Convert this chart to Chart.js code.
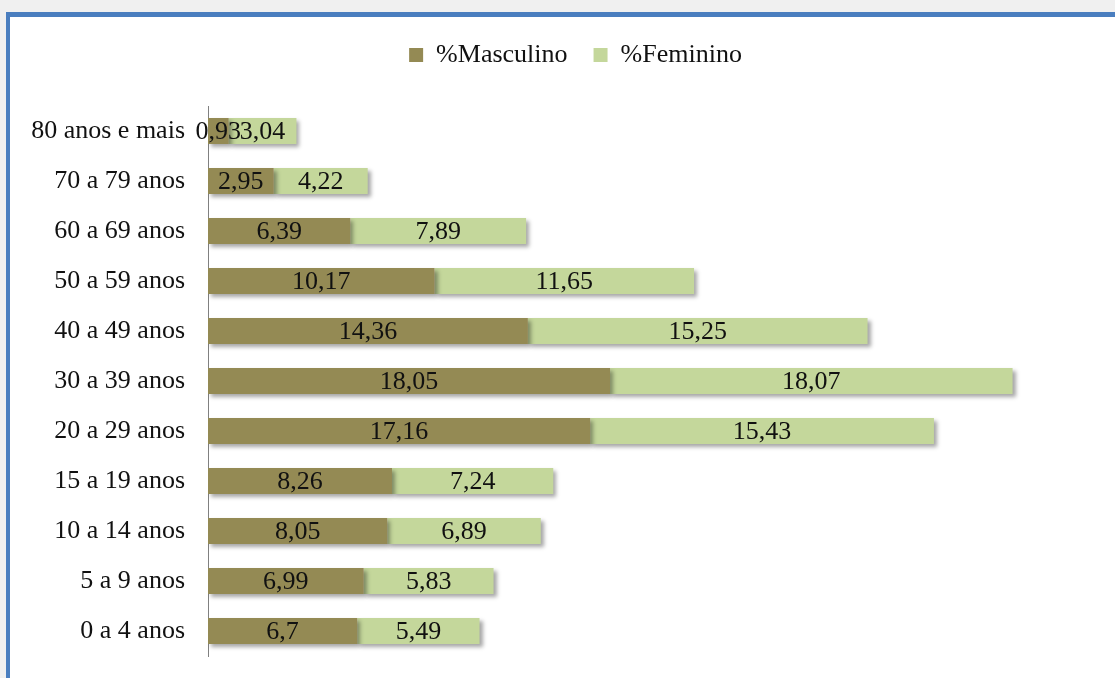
<!DOCTYPE html>
<html>
<head>
<meta charset="utf-8">
<script src="https://cdn.jsdelivr.net/npm/chart.js@4/dist/chart.umd.min.js"></script>
<style>
    html, body { margin: 0; padding: 0; background: #f0f0f0; overflow: hidden; }
    #frame {
        position: absolute; left: 6px; top: 12px; width: 1120px; height: 680px;
        background: #ffffff; border-top: 5px solid #4a7ebf; border-left: 4px solid #4a7ebf;
    }
    #chartCanvas { position: absolute; left: 0; top: 0; }
</style>
</head>
<body>
<div id="frame"></div>
<canvas id="chartCanvas" width="1115" height="678"></canvas>
<script>
const categories = [
    "80 anos e mais", "70 a 79 anos", "60 a 69 anos", "50 a 59 anos", "40 a 49 anos",
    "30 a 39 anos", "20 a 29 anos", "15 a 19 anos", "10 a 14 anos", "5 a 9 anos", "0 a 4 anos"
];
const masculino = [0.93, 2.95, 6.39, 10.17, 14.36, 18.05, 17.16, 8.26, 8.05, 6.99, 6.7];
const feminino = [3.04, 4.22, 7.89, 11.65, 15.25, 18.07, 15.43, 7.24, 6.89, 5.83, 5.49];

const FONT = "'Liberation Serif', 'Times New Roman', serif";

// empty box between legend and plot, pushes the bars down
const spacer = {
    id: "spacer",
    beforeInit(chart) {
        Chart.layouts.addBox(chart, {
            position: "top",
            weight: 500,
            fullSize: true,
            options: {},
            isHorizontal() { return true; },
            update(w, h) { this.width = w; this.height = 28; },
            draw() {}
        });
    },
    // legend sits over the plot a bit to the right in the original
    afterLayout(chart) {
        chart.legend.left += 26;
        chart.legend.right += 26;
    }
};

// bar shadows + value labels drawn in the middle of each segment
const barExtras = {
    id: "barExtras",
    beforeDatasetsDraw(chart) {
        const ctx = chart.ctx;
        ctx.save();
        ctx.shadowColor = "rgba(0, 0, 0, 0.35)";
        ctx.shadowBlur = 4;
        ctx.shadowOffsetX = 3;
        ctx.shadowOffsetY = 3;
    },
    afterDatasetsDraw(chart) {
        const ctx = chart.ctx;
        ctx.restore();
        ctx.save();
        ctx.font = "26px " + FONT;
        ctx.fillStyle = "#111111";
        ctx.textAlign = "center";
        ctx.textBaseline = "middle";
        chart.data.datasets.forEach((ds, i) => {
            chart.getDatasetMeta(i).data.forEach((bar, j) => {
                const cx = (bar.x + bar.base) / 2;
                ctx.fillText(String(ds.data[j]).replace(".", ","), cx, bar.y + 1);
            });
        });
        ctx.restore();
    }
};

new Chart(document.getElementById("chartCanvas"), {
    type: "bar",
    data: {
        labels: categories,
        datasets: [
            { label: "%Masculino", data: masculino, backgroundColor: "#948a54" },
            { label: "%Feminino", data: feminino, backgroundColor: "#c4d79b" }
        ]
    },
    options: {
        indexAxis: "y",
        responsive: false,
        animation: false,
        barPercentage: 0.52,
        categoryPercentage: 1,
        layout: { padding: { top: 16, right: 16, bottom: 22, left: 0 } },
        scales: {
            x: { stacked: true, display: false, min: 0, max: 40 },
            y: {
                stacked: true,
                grid: { display: false, drawTicks: false },
                border: { display: true, color: "#808080", width: 1 },
                ticks: { color: "#111111", padding: 23, font: { family: FONT, size: 26 } },
                afterFit: (s) => {
                    s.width = 208;
                    s.paddingTop = 0;
                    s.paddingBottom = 0;
                }
            }
        },
        plugins: {
            legend: {
                labels: { color: "#111111", boxWidth: 14, boxHeight: 14, padding: 26, font: { family: FONT, size: 26 } }
            },
            tooltip: { enabled: false }
        }
    },
    plugins: [spacer, barExtras]
});
</script>
</body>
</html>
